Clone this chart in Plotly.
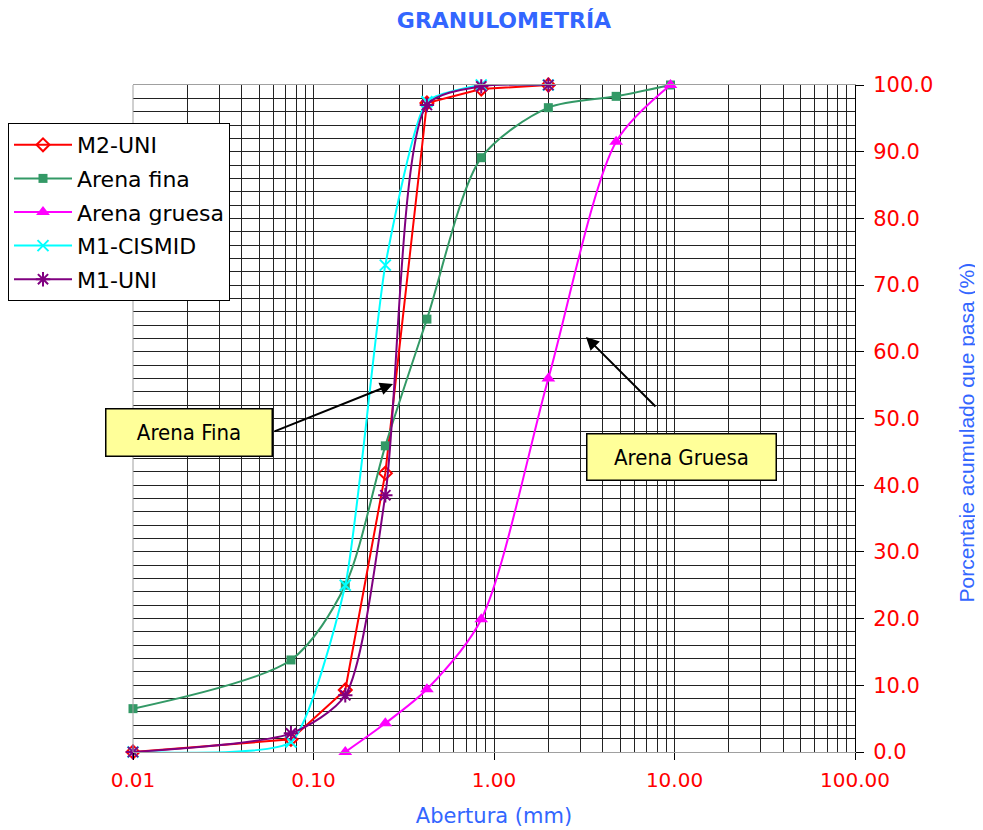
import plotly.graph_objects as go

# ---- data ----
x_tick_vals = [0.01, 0.1, 1, 10, 100]
x_tick_text = ["0.01", "0.10", "1.00", "10.00", "100.00"]

m2_uni_x = [0.01, 0.075, 0.15, 0.25, 0.425, 0.85, 2.0]
m2_uni_y = [0.0, 1.9, 9.3, 41.8, 97.3, 99.4, 100.0]

arena_fina_x = [0.01, 0.075, 0.15, 0.25, 0.425, 0.85, 2.0, 4.75, 9.5]
arena_fina_y = [6.5, 13.8, 25.0, 45.9, 64.9, 89.1, 96.6, 98.3, 100.0]

arena_gruesa_x = [0.15, 0.25, 0.425, 0.85, 2.0, 4.75, 9.5]
arena_gruesa_y = [0.0, 4.3, 9.4, 19.9, 56.0, 91.5, 100.0]

m1_cismid_x = [0.01, 0.075, 0.15, 0.25, 0.425, 0.85, 2.0]
m1_cismid_y = [0.0, 1.5, 25.0, 73.0, 97.5, 100.0, 100.0]

m1_uni_x = [0.01, 0.075, 0.15, 0.25, 0.425, 0.85, 2.0]
m1_uni_y = [0.0, 2.8, 8.5, 38.5, 97.0, 99.8, 100.0]

FONT = "DejaVu Sans"
BLUE = "#3366FF"
GRID = "#222222"

# page body has an 8px margin: figure is shrunk so the plot area lands on the reference pixels
W, H = 975, 822
ML, MR, MT, MB = 125, 128, 77, 78
PW = W - ML - MR      # 722
PH = H - MT - MB      # 667
OFF = 8


def px_x(page_x):
    return (page_x - OFF - ML) / PW


def px_y(page_y):
    return (H - MB - (page_y - OFF)) / PH


fig = go.Figure()

fig.add_trace(go.Scatter(
    x=m2_uni_x, y=m2_uni_y, name="M2-UNI", legendgroup="g1", mode="lines+markers",
    line=dict(color="#FF0000", width=2, shape="linear"),
    marker=dict(symbol="diamond-open", size=10, color="#FF0000", line=dict(width=2)),
    cliponaxis=False))
fig.add_trace(go.Scatter(
    x=arena_fina_x, y=arena_fina_y, name="Arena fina", legendgroup="g2", mode="lines+markers",
    line=dict(color="#339966", width=2, shape="spline", smoothing=0.8),
    marker=dict(symbol="square", size=9, color="#339966"),
    cliponaxis=False))
fig.add_trace(go.Scatter(
    x=arena_gruesa_x, y=arena_gruesa_y, name="Arena gruesa", legendgroup="g3", mode="lines+markers",
    line=dict(color="#FF00FF", width=2, shape="spline", smoothing=0.8),
    marker=dict(symbol="triangle-up", size=12, color="#FF00FF"),
    cliponaxis=False))
fig.add_trace(go.Scatter(
    x=m1_cismid_x, y=m1_cismid_y, name="M1-CISMID", legendgroup="g4", mode="lines+markers",
    line=dict(color="#00FFFF", width=2, shape="spline", smoothing=0.5),
    marker=dict(symbol="x-thin-open", size=11, color="#00FFFF", line=dict(width=2, color="#00FFFF")),
    cliponaxis=False))
fig.add_trace(go.Scatter(
    x=m1_uni_x, y=m1_uni_y, name="M1-UNI", legendgroup="g5", mode="lines+markers",
    line=dict(color="#800080", width=2, shape="spline", smoothing=0.7),
    marker=dict(symbol="asterisk-open", size=12, color="#800080", line=dict(width=2, color="#800080")),
    cliponaxis=False))

fig.update_layout(
    width=W, height=H,
    margin=dict(l=ML, r=MR, t=MT, b=MB, autoexpand=False),
    paper_bgcolor="white", plot_bgcolor="white",
    font=dict(family=FONT, size=20, color="black"),
    title=dict(text="<b>GRANULOMETRÍA</b>", x=(504 - OFF) / W, xanchor="center",
               y=1 - (20 - OFF) / H, yanchor="middle",
               font=dict(family=FONT, size=22, color=BLUE)),
    xaxis=dict(
        type="log", range=[-2, 2],
        tickmode="array", tickvals=x_tick_vals, ticktext=x_tick_text,
        ticks="outside", ticklen=7, tickcolor="black", ticklabelstandoff=3,
        tickfont=dict(family=FONT, size=20, color="#FF0000"),
        showgrid=True, gridcolor=GRID, gridwidth=1,
        minor=dict(dtick="D1", showgrid=True, gridcolor=GRID, gridwidth=1, ticks=""),
        showline=True, linecolor="#A0A0A0", linewidth=1, mirror=True,
        zeroline=False,
        title=dict(text="Abertura (mm)", font=dict(family=FONT, size=21, color=BLUE), standoff=17),
    ),
    yaxis=dict(
        side="right", range=[0, 100], dtick=10, tickformat=".1f",
        ticks="outside", ticklen=8, tickcolor="black", ticklabelstandoff=5,
        tickfont=dict(family=FONT, size=21, color="#FF0000"),
        showgrid=True, gridcolor=GRID, gridwidth=1,
        minor=dict(dtick=2, showgrid=True, gridcolor=GRID, gridwidth=1, ticks=""),
        showline=True, linecolor="black", linewidth=1,
        zeroline=False,
    ),
    legend=dict(
        x=px_x(8), y=px_y(123), xanchor="left", yanchor="top",
        bgcolor="white", bordercolor="black", borderwidth=1,
        font=dict(family=FONT, size=22, color="black"),
        tracegroupgap=2, itemwidth=58,
    ),
    showlegend=True,
)

# left border of plot area (gray)
fig.add_shape(type="line", xref="paper", yref="paper", x0=0, x1=0, y0=0, y1=1,
              line=dict(color="#A0A0A0", width=1))

# right-side y axis title (placed like the reference, slightly below the axis centre)
fig.add_annotation(text="Porcentaje acumulado que pasa (%)", xref="paper", yref="paper",
                   x=px_x(966), y=px_y(432.5), xanchor="center", yanchor="middle",
                   textangle=-90, showarrow=False,
                   font=dict(family="Liberation Sans", size=21, color=BLUE))

box_font = dict(family="Liberation Sans Narrow, DejaVu Sans Condensed, Liberation Sans",
                size=22, color="black")
fig.add_annotation(text="Arena Fina", xref="paper", yref="paper",
                   x=px_x(188.5), y=px_y(432.5), xanchor="center", yanchor="middle",
                   showarrow=False, width=163, height=44, bgcolor="#FFFF99",
                   bordercolor="black", borderwidth=1.5, borderpad=1, font=box_font)
fig.add_annotation(text="Arena Gruesa", xref="paper", yref="paper",
                   x=px_x(681), y=px_y(457), xanchor="center", yanchor="middle",
                   showarrow=False, width=186, height=43, bgcolor="#FFFF99",
                   bordercolor="black", borderwidth=1.5, borderpad=1, font=box_font)
fig.add_annotation(text="", xref="paper", yref="paper",
                   x=px_x(393), y=px_y(384),
                   ax=-120, ay=48, showarrow=True, arrowhead=2, arrowsize=1.3,
                   arrowwidth=2, arrowcolor="black", standoff=0)
fig.add_annotation(text="", xref="paper", yref="paper",
                   x=px_x(586), y=px_y(337),
                   ax=71, ay=71, showarrow=True, arrowhead=2, arrowsize=1.3,
                   arrowwidth=2, arrowcolor="black", standoff=0)

fig.write_html("out.html")
